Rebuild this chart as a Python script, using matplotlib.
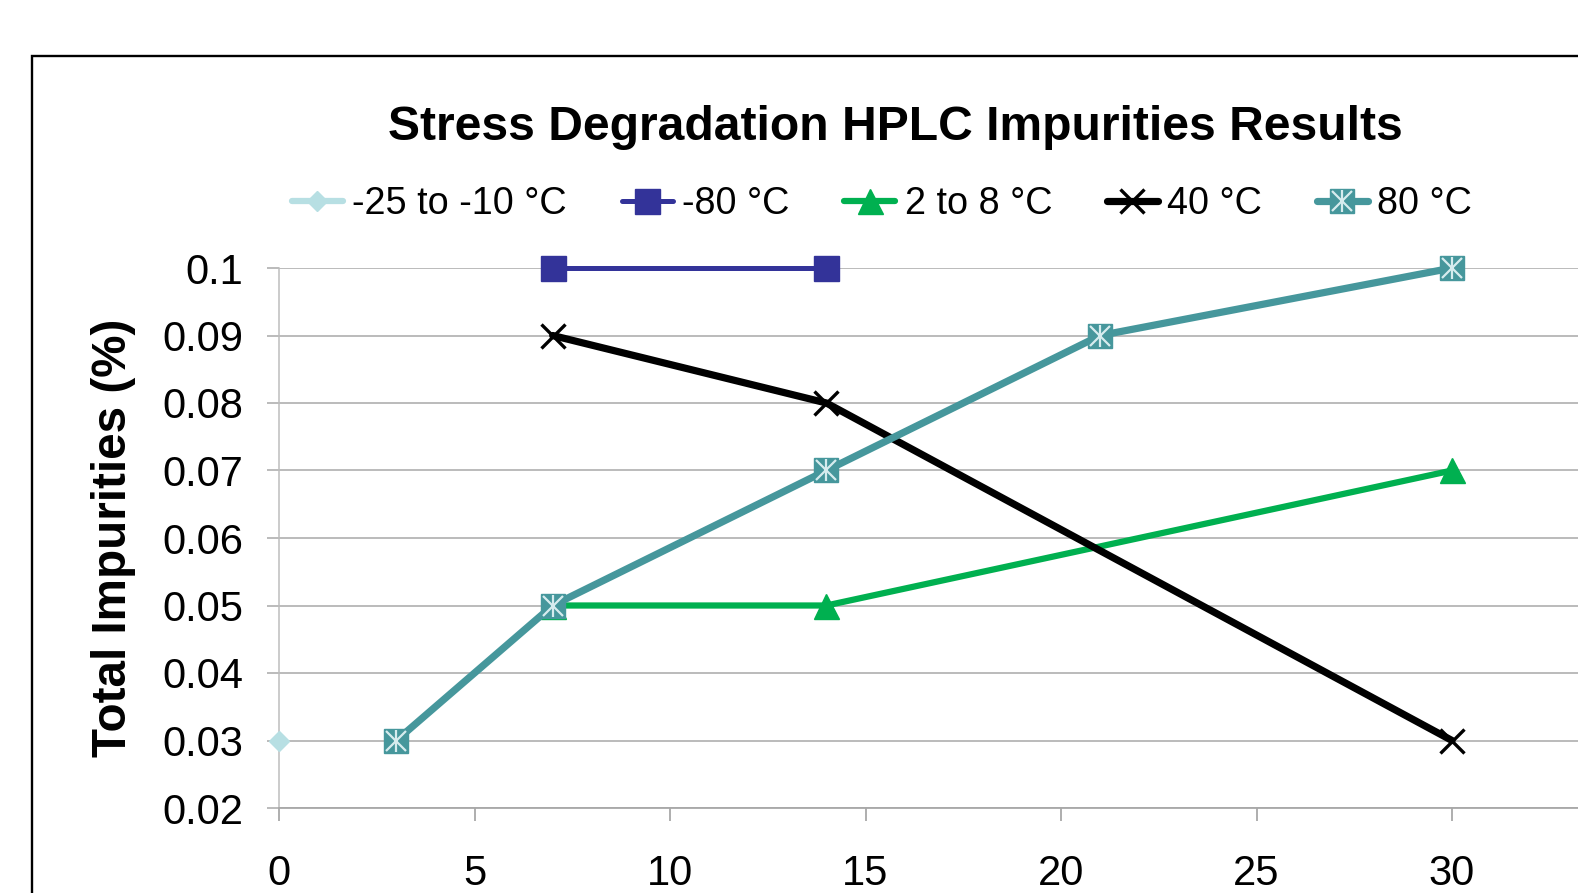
import matplotlib
matplotlib.use("Agg")
import matplotlib.pyplot as plt
from matplotlib.patches import Rectangle
from matplotlib.legend_handler import HandlerTuple

plt.rcParams['font.family'] = ['Liberation Sans', 'DejaVu Sans']

# Data: storage time (x) vs. total impurities (%)
x_m25 = [0]
y_m25 = [0.03]
x_m80 = [7, 14]
y_m80 = [0.10, 0.10]
x_2to8 = [7, 14, 30]
y_2to8 = [0.05, 0.05, 0.07]
x_40 = [7, 14, 30]
y_40 = [0.09, 0.08, 0.03]
x_80 = [3, 7, 14, 21, 30]
y_80 = [0.03, 0.05, 0.07, 0.09, 0.10]

series_labels = ['-25 to -10 °C', '-80 °C', '2 to 8 °C', '40 °C', '80 °C']
x_ticks = [0, 5, 10, 15, 20, 25, 30]
y_ticks = [0.02, 0.03, 0.04, 0.05, 0.06, 0.07, 0.08, 0.09, 0.10]
y_tick_labels = ['0.02', '0.03', '0.04', '0.05', '0.06', '0.07', '0.08', '0.09', '0.1']

W, H = 1578, 893
fig = plt.figure(figsize=(W / 100, H / 100), dpi=100)

# outer chart border (continues past the right/bottom edges)
fig.patches.append(Rectangle((31.5 / W, -0.2), 1.5, 1 - 56 / H + 0.2,
                             transform=fig.transFigure, fill=False,
                             edgecolor='black', linewidth=1.7, zorder=0))

left_px, right_px = 279, 279 + 35 * 39.1
top_px, bot_px = 268, 808
ax = fig.add_axes([left_px / W, 1 - bot_px / H,
                   (right_px - left_px) / W, (bot_px - top_px) / H])
ax.set_xlim(0, 35)
ax.set_ylim(0.02, 0.10)

grid_c = '#A8A8A8'
ax.set_yticks(y_ticks)
ax.set_yticklabels(y_tick_labels)
ax.set_xticks(x_ticks)
ax.yaxis.grid(True, color=grid_c, linewidth=1.1, zorder=0)
ax.set_axisbelow(True)
for s in ['top', 'right']:
    ax.spines[s].set_visible(False)
ax.spines['left'].set_color('#BDBDBD')
ax.spines['left'].set_linewidth(1.1)
ax.spines['bottom'].set_color(grid_c)
ax.spines['bottom'].set_linewidth(1.3)
ax.tick_params(axis='y', length=9, width=1.1, color=grid_c, labelsize=30, pad=17)
ax.tick_params(axis='x', length=9, width=1.3, color=grid_c, labelsize=30, pad=24)

teal = '#46979C'
star_c = '#D6ECEE'

h1, = ax.plot(x_m25, y_m25, linestyle='-', color='#B7DFE3', linewidth=4.5,
              marker='D', markersize=10, solid_capstyle='round', clip_on=False, zorder=3)
h2, = ax.plot(x_m80, y_m80, color='#333399', linewidth=3.6, marker='s',
              markersize=18, solid_capstyle='round', clip_on=False, zorder=3)
h3, = ax.plot(x_2to8, y_2to8, color='#00B050', linewidth=4.5, marker='^',
              markersize=18, solid_capstyle='round', clip_on=False, zorder=3)
h4, = ax.plot(x_40, y_40, color='black', linewidth=5.2, marker='x',
              markersize=17, markeredgewidth=2.4, solid_capstyle='round',
              clip_on=False, zorder=3)
h5, = ax.plot(x_80, y_80, color=teal, linewidth=5.2, marker='s',
              markersize=17, solid_capstyle='round', clip_on=False, zorder=4)
h5x, = ax.plot(x_80, y_80, linestyle='none', marker='x', markersize=14,
               markeredgewidth=1.6, color=star_c, clip_on=False, zorder=5)
h5v, = ax.plot(x_80, y_80, linestyle='none', marker='|', markersize=16,
               markeredgewidth=1.6, color=star_c, clip_on=False, zorder=5)

fig.text(895 / W, 1 - 127 / H, 'Stress Degradation HPLC Impurities Results',
         ha='center', va='center', fontsize=34.6, fontweight='bold')
fig.text(113 / W, 1 - 538 / H, 'Total Impurities (%)', rotation=90,
         ha='center', va='center', fontsize=34.3, fontweight='bold')

fig.legend([h1, h2, h3, h4, (h5, h5x, h5v)], series_labels,
           handler_map={tuple: HandlerTuple(ndivide=1, pad=0)},
           loc='center', bbox_to_anchor=(882 / W, 1 - 204 / H), ncol=5,
           frameon=False, fontsize=27.2, numpoints=1, handlelength=1.35,
           handletextpad=0.25, columnspacing=1.45, borderaxespad=0)

fig.savefig('out.png', dpi=100)
